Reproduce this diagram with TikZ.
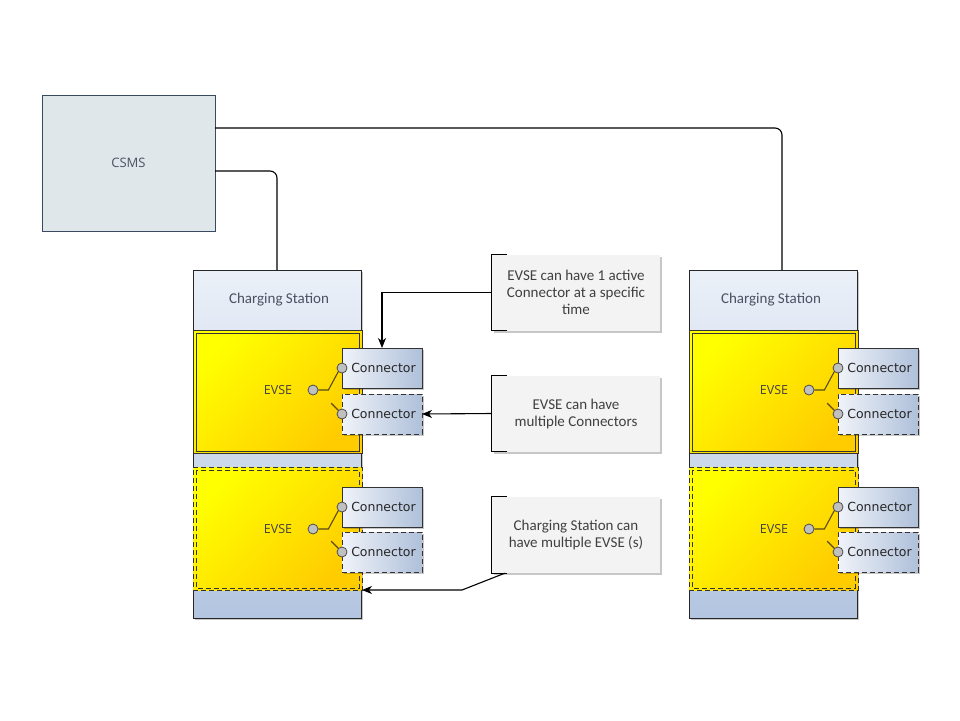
\documentclass[tikz,border=0pt]{standalone}
\usepackage{fontspec}
\setmainfont{Carlito}
\newfontfamily\connfont{DejaVu Sans}
\newfontfamily\uifont{Open Sans}
\usetikzlibrary{shadows,arrows.meta,calc}
\definecolor{stTop}{HTML}{EBF0F8}
\definecolor{stBot}{HTML}{B3C5E0}
\definecolor{yelA}{HTML}{FFFF00}
\definecolor{yelB}{HTML}{FFCC00}
\definecolor{connL}{HTML}{F0F3F9}
\definecolor{connR}{HTML}{AFC0DA}
\definecolor{noteFill}{HTML}{F3F3F3}
\definecolor{csmsFill}{HTML}{DFE7EA}
\definecolor{csmsLine}{HTML}{3A4A5E}
\definecolor{txtGray}{HTML}{404040}
\definecolor{hdrTxt}{HTML}{4A5262}
\definecolor{wireC}{HTML}{5A4A18}
\definecolor{dotFill}{HTML}{C0C0C0}
\tikzset{
  box/.style={rectangle, anchor=north west, inner sep=0pt, outer sep=0pt},
  dsh/.style={dash pattern=on 5pt off 3pt},
  softshadow/.style={drop shadow={shadow xshift=2pt, shadow yshift=-2pt, opacity=.22, fill=black}},
  station/.style={box, draw=black!85, line width=0.9pt, top color=stTop, bottom color=stBot, softshadow, minimum width=168pt, minimum height=348pt},
  evse/.style={box, draw=black!80, line width=0.9pt, left color=yelA, right color=yelB, shading angle=45, minimum width=169pt, minimum height=123pt},
  conn/.style={box, draw=black!80, line width=0.9pt, left color=connL, right color=connR, softshadow, minimum width=80pt, minimum height=40pt, font=\connfont\fontsize{12.5}{14}\selectfont, text=black!85},
  dot/.style={circle, draw=black!70, line width=0.8pt, fill=dotFill, minimum size=10pt, inner sep=0pt},
  wire/.style={draw=wireC, line width=1.1pt},
  note/.style={rectangle, fill=noteFill, softshadow, minimum width=168pt, minimum height=76pt, align=center, inner sep=0pt, text=txtGray, font=\fontsize{15}{17}\selectfont},
  bracket/.style={draw=black, line width=1.1pt},
  link/.style={draw=black, line width=1.1pt},
  arr/.style={link, -{Stealth[length=10pt,width=8pt,inset=3pt]}},
  lbl/.style={text=txtGray, font=\uifont\fontsize{12.5}{14}\selectfont}
}
\begin{document}
\begin{tikzpicture}[x=1pt,y=-1pt]
\useasboundingbox (0,0) rectangle (960,720);

% CSMS
\node[box, draw=csmsLine, line width=0.9pt, fill=csmsFill, minimum width=173pt, minimum height=136pt, text=hdrTxt, font=\uifont\fontsize{13}{15}\selectfont] (csms) at (42,95) {CSMS};

\foreach \s/\dx/\hx in {a/0/279,b/496/771}{
  \node[station] (st\s) at (193+\dx,270) {};
  \node[text=hdrTxt, font=\fontsize{15}{17}\selectfont] (hdr\s) at (\hx,300) {Charging Station};
  % EVSE 1
  \node[evse] (evA\s) at (193+\dx,330) {};
  \draw[black!80, line width=0.9pt] (196+\dx,333) rectangle (359+\dx,451);
  % EVSE 2
  \node[evse, dsh] (evB\s) at (193+\dx,467) {};
  \draw[black!80, line width=0.9pt, dsh] (196+\dx,470) rectangle (359+\dx,588);
  % labels
  \node[lbl] (elA\s) at (278+\dx,390) {EVSE};
  \node[lbl] (elB\s) at (278+\dx,529) {EVSE};
  % connectors
  \node[conn] (cA\s) at (342+\dx,348) {\hspace{3pt}Connector};
  \node[conn, dsh] (cB\s) at (342+\dx,394) {\hspace{3pt}Connector};
  \node[conn] (cC\s) at (342+\dx,487) {\hspace{3pt}Connector};
  \node[conn, dsh] (cD\s) at (342+\dx,532) {\hspace{3pt}Connector};
  % dots
  \node[dot] (edA\s) at (313+\dx,390) {};
  \node[dot] (edB\s) at (313+\dx,529) {};
  \node[dot] (cdA\s) at (cA\s.west) {};
  \node[dot] (cdB\s) at (cB\s.west) {};
  \node[dot] (cdC\s) at (cC\s.west) {};
  \node[dot] (cdD\s) at (cD\s.west) {};
  \draw[wire] (edA\s.east) -- ++(10,0) -- (cdA\s.south west);
  \draw[wire] (edB\s.east) -- ++(10,0) -- (cdC\s.south west);
  \draw[wire] (cdB\s.north west) -- ++(-7,-7);
  \draw[wire] (cdD\s.north west) -- ++(-7,-7);
}

% CSMS links
\draw[link, rounded corners=7pt] ([yshift=-33pt]csms.north east) -| ([xshift=9pt]stb.north);
\draw[link, rounded corners=7pt] ([yshift=-76pt]csms.north east) -| (sta.north);

% notes
\node[note] (n1) at (576,292.5) {EVSE can have 1 active\\Connector at a specific\\time};
\node[note] (n2) at (576,413.5) {EVSE can have\\multiple Connectors};
\node[note] (n3) at (576,535) {Charging Station can\\have multiple EVSE (s)};
\foreach \n in {n1,n2,n3}{
  \draw[bracket] ([xshift=15pt]\n.north west) -- (\n.north west) -- (\n.south west) -- ([xshift=15pt]\n.south west);
}

% annotation arrows
\draw[arr] (n1.west) -| (cAa.north);
\draw[arr] (n2.west) -- (cBa.east);
\draw[arr] ([xshift=13pt]n3.south west) -- ([xshift=100pt]evBa.south east) -- (evBa.south east);
\end{tikzpicture}
\end{document}
